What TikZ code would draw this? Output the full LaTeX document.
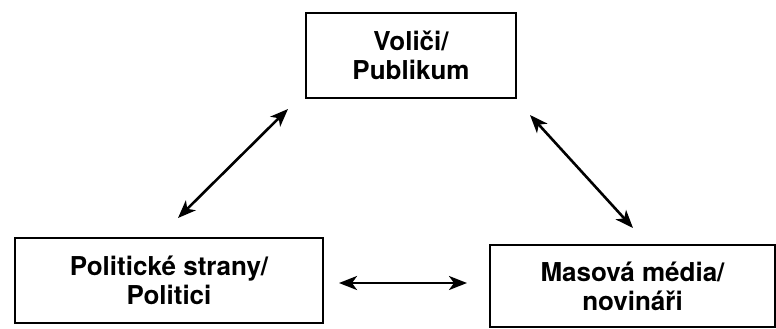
\documentclass[tikz,border=0pt]{standalone}
\usepackage{fontspec}
\setsansfont{TeX Gyre Heros}
\usepackage{tikz}
\usetikzlibrary{arrows.meta}
\tikzset{
  actor/.style={draw, line width=1.4pt, align=center, inner sep=2pt,
                font=\sffamily\bfseries\fontsize{13}{14.5}\selectfont},
  link/.style={{Stealth[length=9pt,width=7pt,inset=2.5pt]}-{Stealth[length=9pt,width=7pt,inset=2.5pt]}, line width=1.3pt}
}

\begin{document}
\begin{tikzpicture}[x=0.5pt, y=-0.5pt]
\useasboundingbox (0,0) rectangle (776,328);

\node[actor, minimum width=105pt, minimum height=42.5pt] (voters) at (411,55.5) {Voliči/\\Publikum};
\node[actor, minimum width=154pt, minimum height=42.5pt] (parties) at (169,280.5) {Politické strany/\\Politici};
\node[actor, minimum width=142.5pt, minimum height=41pt] (media) at (632.5,286) {Masová média/\\novináři};

% arrow ends
\coordinate (lp) at (178,218);
\coordinate (lv) at (288,109);
\coordinate (rv) at (530,115);
\coordinate (rm) at (633,228);
\coordinate (hp) at (339,283);
\coordinate (hm) at (467,283);

\draw[link] (lp) -- (lv);
\draw[link] (rv) -- (rm);
\draw[link] (hp) -- (hm);
\end{tikzpicture}
\end{document}
